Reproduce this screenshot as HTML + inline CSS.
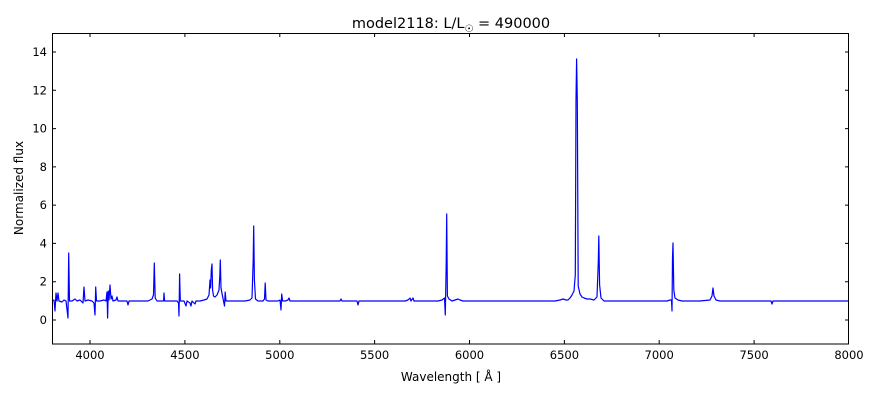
<!DOCTYPE html>
<html><head><meta charset="utf-8"><style>
body{margin:0;background:#fff;}
svg text{font-family:"DejaVu Sans","Liberation Sans",sans-serif;}
</style></head><body>
<svg width="880" height="400" xmlns="http://www.w3.org/2000/svg">
<rect width="880" height="400" fill="#fff"/>
<g fill="#000">
<text x="451" y="28" font-size="14.5" text-anchor="middle">model2118: L/L<tspan font-size="10" dy="4">☉</tspan><tspan dy="-4"> = 490000</tspan></text>
<text x="451" y="381" font-size="12" text-anchor="middle">Wavelength [ Å ]</text>
<text transform="translate(23,188) rotate(-90)" font-size="12" text-anchor="middle">Normalized flux</text>
</g>
<g font-size="11.5" text-anchor="middle">
<text x="90" y="359">4000</text><text x="184.9" y="359">4500</text><text x="279.8" y="359">5000</text><text x="374.6" y="359">5500</text><text x="469.5" y="359">6000</text><text x="564.4" y="359">6500</text><text x="659.2" y="359">7000</text><text x="754.1" y="359">7500</text><text x="849" y="359">8000</text>
</g>
<g font-size="11.5" text-anchor="end">
<text x="47" y="324">0</text><text x="47" y="285.7">2</text><text x="47" y="247.4">4</text><text x="47" y="209.1">6</text><text x="47" y="170.9">8</text><text x="47" y="132.6">10</text><text x="47" y="94.3">12</text><text x="47" y="56">14</text>
</g>
<g stroke="#000" stroke-width="1">
<path d="M90,344v-4M184.9,344v-4M279.8,344v-4M374.6,344v-4M469.5,344v-4M564.4,344v-4M659.2,344v-4M754.1,344v-4M90,33v4M184.9,33v4M279.8,33v4M374.6,33v4M469.5,33v4M564.4,33v4M659.2,33v4M754.1,33v4"/>
<path d="M52,320h4M52,281.7h4M52,243.4h4M52,205.1h4M52,166.9h4M52,128.6h4M52,90.3h4M52,52h4M849,320h-4M849,281.7h-4M849,243.4h-4M849,205.1h-4M849,166.9h-4M849,128.6h-4M849,90.3h-4M849,52h-4"/>
</g>
<path fill="none" stroke="#0000ff" stroke-width="1.2" stroke-linejoin="round" d="
M52,301 L54,300 L55,311 L56,293 L57,301 L58,293 L59,301 L62,302 L64,300 L66,301 L68,318 L68.7,253 L69.5,301 L72,301 L75,299 L77,301 L80,300 L83,303 L84,287 L85,301 L88,300 L92,301 L94,303 L95,315 L95.7,287 L96.5,301 L100,301 L104,300 L106,301 L107,292 L107.6,318 L108.3,291 L109,300 L110,285 L111,299 L112,296 L113,301 L116,300 L117,297 L118,301 L124,301 L127,301 L128,305 L129,301 L140,301 L148,301 L152,299 L153.5,295 L154.3,263 L155.2,298 L157,301 L162,301 L163.6,301 L164,293 L164.6,301 L170,301 L177,301 L178.5,303 L179,316 L179.6,274 L180.3,301 L184,301 L186,306 L187,301 L190,303 L191,306 L192,301 L195,304 L196,301 L200,301 L204,300 L207,299 L209,295 L210,280 L210.6,288 L211.3,270 L212,264 L212.6,290 L213.5,296 L215,297 L217,295 L219,290 L219.8,276 L220.3,260 L221,288 L222.5,296 L223.5,301 L224.5,306 L225.2,292 L226,301 L232,301 L245,301 L250,300 L252,298 L253.2,260 L253.7,226 L254.4,280 L255.5,299 L258,301 L263,301 L264.5,299 L265.2,283 L266,300 L268,301 L278,301 L280,300 L281,310 L281.7,294 L282.6,301 L285,301 L288,300 L289,298 L290,301 L300,301 L320,301 L340,301 L341,299 L342,301 L357,301 L358,305 L359,301 L380,301 L405,301 L408,300 L410,298 L411,301 L413,298 L414,301 L425,301 L438,301 L442,300 L444.5,298 L445.3,315 L446.2,264 L446.7,214 L447.4,296 L449,299 L452,301 L455,300 L458,299 L460,300 L463,301 L480,301 L500,301 L520,301 L540,301 L555,301 L560,300 L563,299 L566,300 L568,300 L570,298 L572,295 L574,291 L575.3,275 L576,100 L576.6,59 L577.3,100 L578.2,286 L580,294 L582,297 L584,298 L587,299 L590,299 L594,300 L597,297 L598.3,262 L598.8,236 L599.6,285 L601,298 L604,301 L620,301 L640,301 L655,301 L660,301 L667,301 L670,300 L671.5,300 L672,311 L672.5,258 L673,243 L673.8,290 L675,298 L678,300 L682,301 L695,301 L700,301 L710,300 L712,296 L713,288 L714,296 L716,300 L720,301 L735,301 L771,301 L772,304 L773,301 L800,301 L849,301"/>
<rect x="52.5" y="33.5" width="796" height="310.5" fill="none" stroke="#000" stroke-width="1"/>
</svg>
</body></html>
